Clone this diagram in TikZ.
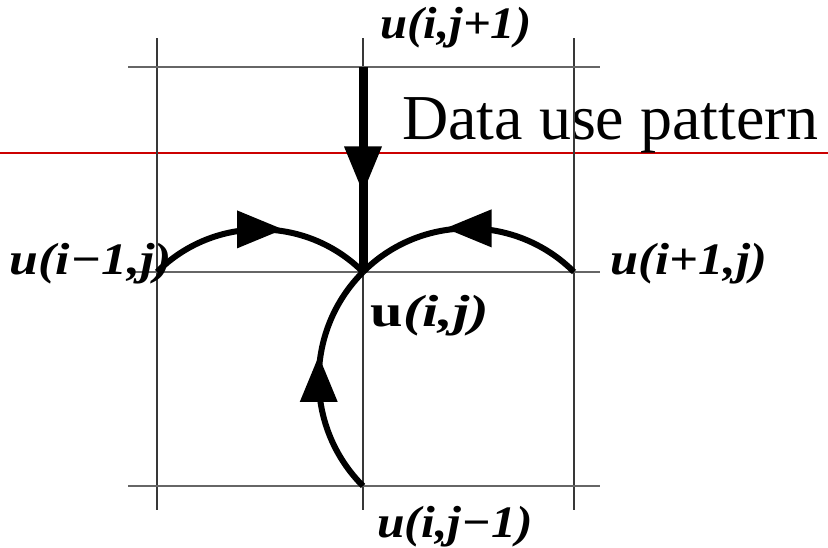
\documentclass[tikz,border=0pt]{standalone}
\usepackage{fontspec}
\setmainfont{Liberation Serif}
\usetikzlibrary{decorations.markings}
\definecolor{gridv}{HTML}{383838}
\definecolor{gridh}{HTML}{666666}
\definecolor{redline}{HTML}{CC0000}
\newcommand{\mns}{\symbol{"2212}}
\tikzset{
  midhead/.style={postaction={decorate},decoration={markings,
    mark=at position 0.5 with {\fill (-23pt,19pt) -- (23pt,0pt) -- (-23pt,-19pt) -- cycle;}}},
  flowarc/.style={line width=6pt, midhead},
  mainarrow/.style={line width=9pt, midhead},
  vgrid/.style={draw=gridv, line width=2pt},
  hgrid/.style={draw=gridh, line width=1.3pt},
  lbl/.style={font=\fontsize{45}{45}\selectfont\bfseries\itshape, inner sep=0pt}
}
\begin{document}
\begin{tikzpicture}[x=1pt,y=1pt]
\useasboundingbox (0,0) rectangle (828,548);
% red line and title
\draw[redline, line width=2.2pt] (0,395) coordinate (rl) -- (828,395) coordinate (rr);
\node[anchor=base west, inner sep=0pt, font=\fontsize{64}{64}\selectfont] (title) at (402,408) {Data use pattern};
% grid points
\coordinate (c) at (363,276);
\coordinate (l) at (157,276);
\coordinate (r) at (574,276);
\coordinate (t) at (363,481);
\coordinate (b) at (363,62);
% grid lines
\foreach \x/\n in {157/a,363/b,574/c}{
  \draw[vgrid] (\x,38) coordinate (vb\n) -- (\x,510) coordinate (vt\n);
}
\foreach \y/\n in {481/a,276/b,62/c}{
  \draw[hgrid] (128,\y) coordinate (hl\n) -- (600,\y) coordinate (hr\n);
}
% arrows
\draw[mainarrow] (t) -- (c);
\draw[flowarc] (l) to[bend left=45] (c);
\draw[flowarc] (r) to[bend right=45] (c);
\draw[flowarc] (b) to[bend left=45] (c);
% labels
\node[lbl, xscale=1.08] (ut) at (456,520) {u(i,j+1)};
\node[lbl, xscale=1.15] (ul) at (91,284) {u(i\mns1,j)};
\node[lbl, xscale=1.12] (ur) at (689,284) {u(i+1,j)};
\node[lbl, xscale=1.3] (uc) at (430,232) {\upshape u\itshape(i,j)};
\node[lbl, xscale=1.1] (ub) at (455,21) {u(i,j\mns1)};
\end{tikzpicture}
\end{document}
